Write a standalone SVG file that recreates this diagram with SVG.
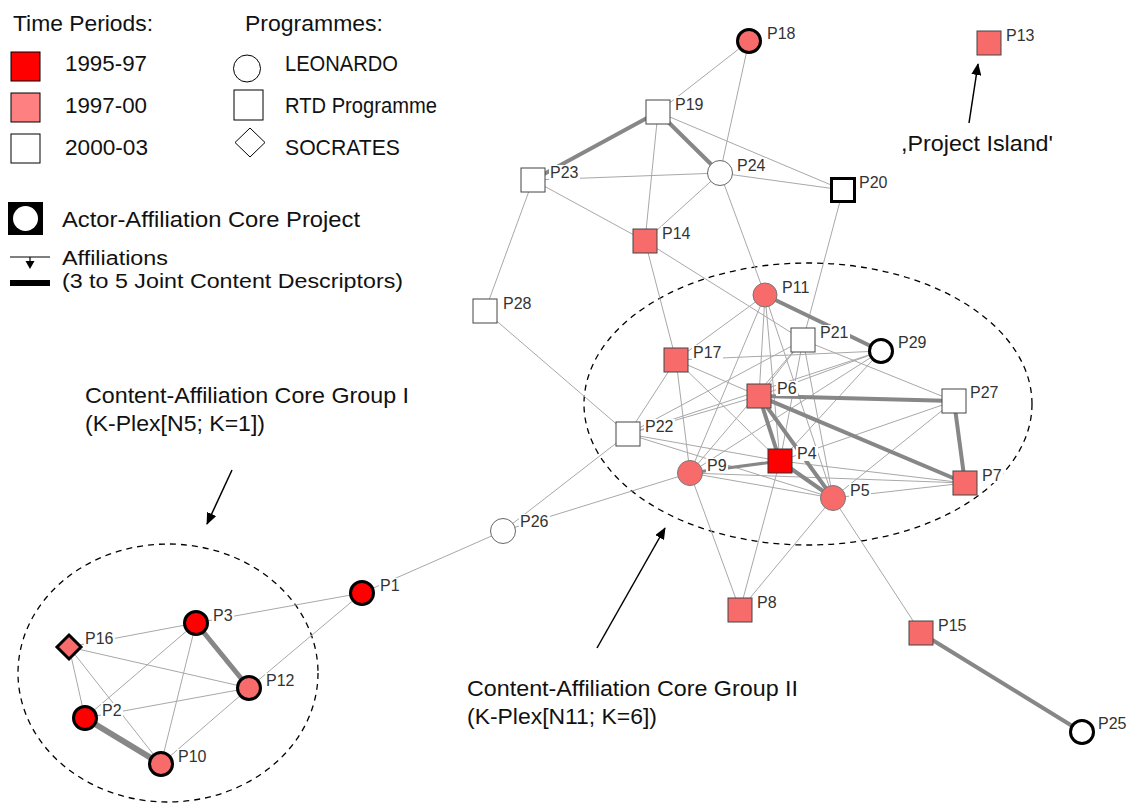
<svg xmlns="http://www.w3.org/2000/svg" width="1129" height="805" viewBox="0 0 1129 805">
<defs>
<marker id="ah" markerWidth="12" markerHeight="10" refX="11" refY="5" orient="auto" markerUnits="userSpaceOnUse">
<path d="M0,0 L12,5 L0,10 z" fill="#000"/>
</marker>
<style>
.big{font-family:"Liberation Sans",Arial,sans-serif;font-size:22px;fill:#111}
.sm{font-size:20px}
.lbl{font-family:"Liberation Sans",Arial,sans-serif;font-size:16px;fill:#333}
.lb{fill:#fff}
.e{stroke:#a8a8a8;stroke-width:1;fill:none}
.t{stroke:#878787;stroke-width:4;fill:none;stroke-linecap:round}
.pk{fill:#f76b6b;stroke:#444;stroke-width:1}
.rd{fill:#ff0000;stroke:#333;stroke-width:1}
.wh{fill:#fff;stroke:#444;stroke-width:1}
.whc{fill:#fff;stroke:#666;stroke-width:1}
.pkc{fill:#f76b6b;stroke:#777;stroke-width:1}
.thk{stroke:#000;stroke-width:3}
.dash{fill:none;stroke:#000;stroke-width:1.3;stroke-dasharray:6 5}
.arr{stroke:#000;stroke-width:1.5;fill:none}
</style>
</defs>
<rect width="1129" height="805" fill="#fff"/>

<g id="legend">
<text class="big" x="13" y="31" textLength="140" lengthAdjust="spacingAndGlyphs">Time Periods:</text>
<text class="big" x="245" y="31" textLength="138" lengthAdjust="spacingAndGlyphs">Programmes:</text>
<rect x="11" y="52" width="29" height="29" fill="#ff0000" stroke="#000"/>
<text class="big" x="65" y="71" textLength="82" lengthAdjust="spacingAndGlyphs">1995-97</text>
<rect x="11" y="93" width="29" height="29" fill="#ff8080" stroke="#000"/>
<text class="big" x="65" y="113" textLength="82" lengthAdjust="spacingAndGlyphs">1997-00</text>
<rect x="11" y="134" width="29" height="29" fill="#fff" stroke="#000"/>
<text class="big" x="65" y="155" textLength="83" lengthAdjust="spacingAndGlyphs">2000-03</text>
<circle cx="247" cy="68.5" r="13.5" fill="#fff" stroke="#000"/>
<text class="big" x="285" y="71" textLength="113" lengthAdjust="spacingAndGlyphs">LEONARDO</text>
<rect x="234" y="90" width="29" height="30" fill="#fff" stroke="#000"/>
<text class="big" x="285" y="113" textLength="152" lengthAdjust="spacingAndGlyphs">RTD Programme</text>
<path d="M250,128 L265,142.5 L250,157 L235,142.5 z" fill="#fff" stroke="#000"/>
<text class="big" x="285" y="155" textLength="115" lengthAdjust="spacingAndGlyphs">SOCRATES</text>
<rect x="8" y="202" width="35" height="33" fill="#000"/>
<circle cx="25.5" cy="218.5" r="12.5" fill="#fff"/>
<text class="big" x="62" y="227" textLength="298" lengthAdjust="spacingAndGlyphs">Actor-Affiliation Core Project</text>
<line x1="10" y1="257" x2="50" y2="257" stroke="#000" stroke-width="1.2"/>
<line x1="30" y1="257" x2="30" y2="262" stroke="#000" stroke-width="1.2"/>
<path d="M25.5,261 L34.5,261 L30,269 z" fill="#000"/>
<line x1="10" y1="283" x2="50" y2="283" stroke="#000" stroke-width="6"/>
<text class="big sm" x="62" y="265" textLength="106" lengthAdjust="spacingAndGlyphs">Affiliations</text>
<text class="big sm" x="62" y="288" textLength="341" lengthAdjust="spacingAndGlyphs">(3 to 5 Joint Content Descriptors)</text>
</g>

<g id="annotations">
<ellipse class="dash" cx="808" cy="404" rx="224" ry="141"/>
<ellipse class="dash" cx="168" cy="673" rx="150" ry="129"/>
<text class="big" x="85" y="403" textLength="324" lengthAdjust="spacingAndGlyphs">Content-Affiliation Core Group I</text>
<text class="big" x="85" y="431" textLength="180" lengthAdjust="spacingAndGlyphs">(K-Plex[N5; K=1])</text>
<text class="big" x="467" y="696" textLength="331" lengthAdjust="spacingAndGlyphs">Content-Affiliation Core Group II</text>
<text class="big" x="467" y="724" textLength="190" lengthAdjust="spacingAndGlyphs">(K-Plex[N11; K=6])</text>
<text class="big" x="901" y="151" textLength="152" lengthAdjust="spacingAndGlyphs">,Project Island'</text>
<line class="arr" x1="232" y1="470" x2="207" y2="524" marker-end="url(#ah)"/>
<line class="arr" x1="597" y1="648" x2="665" y2="528" marker-end="url(#ah)"/>
<line class="arr" x1="969" y1="123" x2="978" y2="64" marker-end="url(#ah)"/>
</g>

<g id="connectors">
<line class="e" x1="749" y1="41" x2="658" y2="112"/>
<line class="e" x1="749" y1="41" x2="720" y2="173"/>
<line class="e" x1="658" y1="112" x2="843" y2="190"/>
<line class="e" x1="658" y1="112" x2="645" y2="241"/>
<line class="e" x1="533" y1="180" x2="720" y2="173"/>
<line class="e" x1="720" y1="173" x2="843" y2="190"/>
<line class="e" x1="720" y1="173" x2="645" y2="241"/>
<line class="e" x1="720" y1="173" x2="765" y2="295"/>
<line class="e" x1="533" y1="180" x2="645" y2="241"/>
<line class="e" x1="533" y1="180" x2="485" y2="311"/>
<line class="e" x1="843" y1="190" x2="803" y2="340"/>
<line class="e" x1="645" y1="241" x2="803" y2="340"/>
<line class="e" x1="645" y1="241" x2="676" y2="360"/>
<line class="e" x1="676" y1="360" x2="690" y2="473"/>
<line class="e" x1="485" y1="311" x2="628" y2="434"/>
<line class="e" x1="628" y1="434" x2="503" y2="531"/>
<line class="e" x1="503" y1="531" x2="362" y2="593"/>
<line class="e" x1="503" y1="531" x2="690" y2="473"/>
<line class="e" x1="362" y1="593" x2="196" y2="623"/>
<line class="e" x1="362" y1="593" x2="249" y2="688"/>
<line class="e" x1="69" y1="647" x2="196" y2="623"/>
<line class="e" x1="69" y1="647" x2="249" y2="688"/>
<line class="e" x1="69" y1="647" x2="85" y2="718"/>
<line class="e" x1="69" y1="647" x2="161" y2="764"/>
<line class="e" x1="196" y1="623" x2="85" y2="718"/>
<line class="e" x1="196" y1="623" x2="161" y2="764"/>
<line class="e" x1="85" y1="718" x2="249" y2="688"/>
<line class="e" x1="249" y1="688" x2="161" y2="764"/>
<line class="e" x1="833" y1="498" x2="921" y2="633"/>
<line class="e" x1="690" y1="473" x2="740" y2="610"/>
<line class="e" x1="780" y1="461" x2="740" y2="610"/>
<line class="e" x1="833" y1="498" x2="740" y2="610"/>
<line class="e" x1="765" y1="295" x2="676" y2="360"/>
<line class="e" x1="765" y1="295" x2="690" y2="473"/>
<line class="e" x1="765" y1="295" x2="759" y2="396"/>
<line class="e" x1="765" y1="295" x2="780" y2="461"/>
<line class="e" x1="765" y1="295" x2="833" y2="498"/>
<line class="e" x1="803" y1="340" x2="954" y2="401"/>
<line class="e" x1="676" y1="360" x2="881" y2="351"/>
<line class="e" x1="803" y1="340" x2="759" y2="396"/>
<line class="e" x1="803" y1="340" x2="628" y2="434"/>
<line class="e" x1="803" y1="340" x2="780" y2="461"/>
<line class="e" x1="803" y1="340" x2="833" y2="498"/>
<line class="e" x1="803" y1="340" x2="690" y2="473"/>
<line class="e" x1="881" y1="351" x2="759" y2="396"/>
<line class="e" x1="881" y1="351" x2="628" y2="434"/>
<line class="e" x1="881" y1="351" x2="780" y2="461"/>
<line class="e" x1="881" y1="351" x2="690" y2="473"/>
<line class="e" x1="954" y1="401" x2="780" y2="461"/>
<line class="e" x1="954" y1="401" x2="833" y2="498"/>
<line class="e" x1="965" y1="483" x2="833" y2="498"/>
<line class="e" x1="965" y1="483" x2="780" y2="461"/>
<line class="e" x1="628" y1="434" x2="676" y2="360"/>
<line class="e" x1="628" y1="434" x2="759" y2="396"/>
<line class="e" x1="628" y1="434" x2="780" y2="461"/>
<line class="e" x1="628" y1="434" x2="833" y2="498"/>
<line class="e" x1="676" y1="360" x2="759" y2="396"/>
<line class="e" x1="676" y1="360" x2="780" y2="461"/>
<line class="e" x1="690" y1="473" x2="833" y2="498"/>
<line class="e" x1="690" y1="473" x2="965" y2="483"/>
<line class="t" x1="658" y1="112" x2="533" y2="180"/>
<line class="t" x1="658" y1="112" x2="720" y2="173"/>
<line class="t" x1="765" y1="295" x2="881" y2="351"/>
<line class="t" x1="759" y1="396" x2="954" y2="401"/>
<line class="t" x1="759" y1="396" x2="965" y2="483"/>
<line class="t" x1="759" y1="396" x2="780" y2="461"/>
<line class="t" x1="759" y1="396" x2="833" y2="498"/>
<line class="t" x1="780" y1="461" x2="833" y2="498"/>
<line class="t" x1="690" y1="473" x2="780" y2="461" style="stroke-width:3"/>
<line class="t" x1="954" y1="401" x2="965" y2="483"/>
<line class="t" x1="196" y1="623" x2="249" y2="688" style="stroke-width:5"/>
<line class="t" x1="85" y1="718" x2="161" y2="764" style="stroke-width:6"/>
<line class="t" x1="921" y1="633" x2="1082" y2="732"/>
</g>

<g id="P1"><circle class="rd thk" cx="362" cy="593" r="11.5"/><rect class="lb" x="379" y="578" width="22" height="15"/><text class="lbl" x="380" y="591">P1</text></g>
<g id="P2"><circle class="rd thk" cx="85" cy="718" r="11.5"/><rect class="lb" x="101" y="703" width="22" height="15"/><text class="lbl" x="102" y="716">P2</text></g>
<g id="P3"><circle class="rd thk" cx="196" cy="623" r="11.5"/><rect class="lb" x="212" y="608" width="22" height="15"/><text class="lbl" x="213" y="621">P3</text></g>
<g id="P4"><rect class="rd" x="768" y="449" width="24" height="24"/><rect class="lb" x="796" y="446" width="22" height="15"/><text class="lbl" x="797" y="459">P4</text></g>
<g id="P5"><circle class="pkc" cx="833" cy="498" r="12.5"/><rect class="lb" x="849" y="483" width="22" height="15"/><text class="lbl" x="850" y="496">P5</text></g>
<g id="P6"><rect class="pk" x="747" y="384" width="24" height="24"/><rect class="lb" x="776" y="381" width="22" height="15"/><text class="lbl" x="777" y="394">P6</text></g>
<g id="P7"><rect class="pk" x="953" y="471" width="24" height="24"/><rect class="lb" x="981" y="468" width="22" height="15"/><text class="lbl" x="982" y="481">P7</text></g>
<g id="P8"><rect class="pk" x="728" y="598" width="24" height="24"/><rect class="lb" x="756" y="595" width="22" height="15"/><text class="lbl" x="757" y="608">P8</text></g>
<g id="P9"><circle class="pkc" cx="690" cy="473" r="12.5"/><rect class="lb" x="706" y="458" width="22" height="15"/><text class="lbl" x="707" y="471">P9</text></g>
<g id="P10"><circle class="pk thk" cx="161" cy="764" r="11.5"/><rect class="lb" x="177" y="749" width="31" height="15"/><text class="lbl" x="178" y="762">P10</text></g>
<g id="P11"><circle class="pkc" cx="765" cy="295" r="12"/><rect class="lb" x="781" y="280" width="31" height="15"/><text class="lbl" x="782" y="293">P11</text></g>
<g id="P12"><circle class="pk thk" cx="249" cy="688" r="11.5"/><rect class="lb" x="265" y="673" width="31" height="15"/><text class="lbl" x="266" y="686">P12</text></g>
<g id="P13"><rect class="pk" x="977" y="31" width="24" height="24"/><rect class="lb" x="1005" y="28" width="31" height="15"/><text class="lbl" x="1006" y="41">P13</text></g>
<g id="P14"><rect class="pk" x="633" y="229" width="24" height="24"/><rect class="lb" x="661" y="226" width="31" height="15"/><text class="lbl" x="662" y="239">P14</text></g>
<g id="P15"><rect class="pk" x="909" y="621" width="24" height="24"/><rect class="lb" x="937" y="618" width="31" height="15"/><text class="lbl" x="938" y="631">P15</text></g>
<g id="P16"><path class="pk thk" d="M69,635 L81,647 L69,659 L57,647 z"/><rect class="lb" x="84" y="630" width="31" height="15"/><text class="lbl" x="85" y="644">P16</text></g>
<g id="P17"><rect class="pk" x="664" y="348" width="24" height="24"/><rect class="lb" x="692" y="345" width="31" height="15"/><text class="lbl" x="693" y="358">P17</text></g>
<g id="P18"><circle class="pk thk" cx="749" cy="41" r="11.5"/><rect class="lb" x="766" y="26" width="31" height="15"/><text class="lbl" x="767" y="39">P18</text></g>
<g id="P19"><rect class="wh" x="646" y="100" width="24" height="24"/><rect class="lb" x="674" y="96" width="31" height="15"/><text class="lbl" x="675" y="110">P19</text></g>
<g id="P20"><rect class="wh thk" x="831.5" y="178.5" width="23" height="23"/><rect class="lb" x="858" y="175" width="31" height="15"/><text class="lbl" x="859" y="188">P20</text></g>
<g id="P21"><rect class="wh" x="791" y="328" width="24" height="24"/><rect class="lb" x="819" y="325" width="31" height="15"/><text class="lbl" x="820" y="338">P21</text></g>
<g id="P22"><rect class="wh" x="616" y="422" width="24" height="24"/><rect class="lb" x="644" y="419" width="31" height="15"/><text class="lbl" x="645" y="432">P22</text></g>
<g id="P23"><rect class="wh" x="521" y="168" width="24" height="24"/><rect class="lb" x="549" y="165" width="31" height="15"/><text class="lbl" x="550" y="178">P23</text></g>
<g id="P24"><circle class="whc" cx="720" cy="173" r="12.5"/><rect class="lb" x="736" y="158" width="31" height="15"/><text class="lbl" x="737" y="171">P24</text></g>
<g id="P25"><circle class="wh thk" cx="1082" cy="732" r="11.5"/><rect class="lb" x="1097" y="716" width="31" height="15"/><text class="lbl" x="1098" y="729">P25</text></g>
<g id="P26"><circle class="whc" cx="503" cy="531" r="12.5"/><rect class="lb" x="519" y="514" width="31" height="15"/><text class="lbl" x="520" y="527">P26</text></g>
<g id="P27"><rect class="wh" x="942" y="389" width="24" height="24"/><rect class="lb" x="969" y="385" width="31" height="15"/><text class="lbl" x="970" y="398">P27</text></g>
<g id="P28"><rect class="wh" x="473" y="299" width="24" height="24"/><rect class="lb" x="502" y="296" width="31" height="15"/><text class="lbl" x="503" y="309">P28</text></g>
<g id="P29"><circle class="wh thk" cx="881" cy="351" r="11.5"/><rect class="lb" x="897" y="335" width="31" height="15"/><text class="lbl" x="898" y="348">P29</text></g>
</svg>
